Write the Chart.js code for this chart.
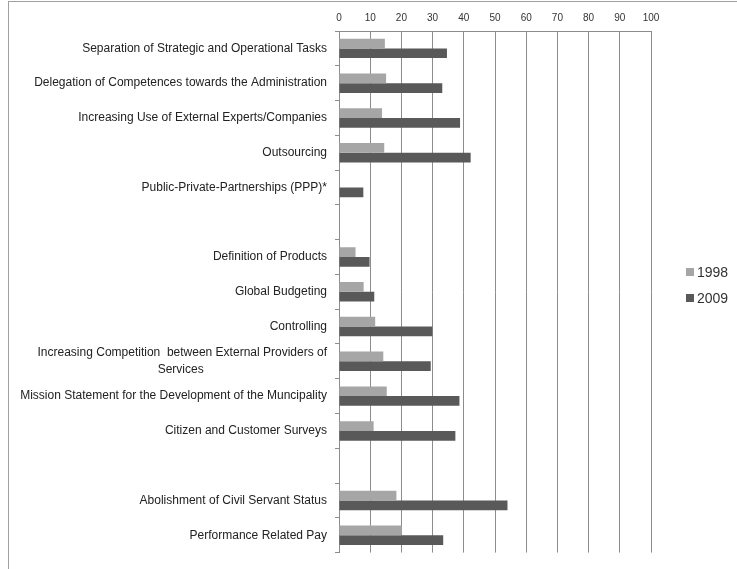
<!DOCTYPE html>
<html>
<head>
<meta charset="utf-8">
<script src="https://cdn.jsdelivr.net/npm/chart.js@4.4.1/dist/chart.umd.min.js"></script>
<style>
  html, body { margin: 0; padding: 0; background: #fff; }
  #wrap { position: relative; width: 737px; height: 569px; overflow: hidden; }
  #frame { position: absolute; left: 8px; top: 1px; width: 800px; height: 700px;
           border-left: 1px solid #a0a0a0; border-top: 1px solid #a0a0a0; pointer-events: none; }
  canvas { position: absolute; left: 0; top: 0; }
</style>
</head>
<body>
<div id="wrap">
  <canvas id="myChart" width="737" height="569"></canvas>
  <div id="frame"></div>
</div>
<script>
const categories = [
    'Separation of Strategic and Operational Tasks',
    'Delegation of Competences towards the Administration',
    'Increasing Use of External Experts/Companies',
    'Outsourcing',
    'Public-Private-Partnerships (PPP)*',
    '',
    'Definition of Products',
    'Global Budgeting',
    'Controlling',
    ['Increasing Competition  between External Providers of', 'Services'],
    'Mission Statement for the Development of the Muncipality',
    'Citizen and Customer Surveys',
    '',
    'Abolishment of Civil Servant Status',
    'Performance Related Pay'
];
const values1998 = [14.7, 15.1, 13.8, 14.5, null, null, 5.3, 7.9, 11.6, 14.2, 15.3, 11.1, null, 18.4, 20.1];
const values2009 = [34.6, 33.1, 38.8, 42.2, 7.8, null, 9.8, 11.3, 29.9, 29.4, 38.6, 37.3, null, 54.0, 33.4];
const xTicks = [0, 10, 20, 30, 40, 50, 60, 70, 80, 90, 100];

(function () {
    "use strict";

    const labelFont = '"Liberation Sans", Arial, sans-serif';
    const labelSize = 12;

    // multi-line labels: the shorter line is centred under the longer one,
    // done by padding it with trailing spaces (the axis right-aligns lines)
    const measure = document.createElement('canvas').getContext('2d');
    measure.font = labelSize + 'px ' + labelFont;
    function centreLines(lines) {
        const widths = lines.map(function (l) { return measure.measureText(l).width; });
        const longest = Math.max.apply(null, widths);
        const space = measure.measureText(' ').width;
        return lines.map(function (l, i) {
            const n = Math.round((longest - widths[i]) / 2 / space);
            return l + ' '.repeat(n);
        });
    }

    // legend drawn by hand so it sits where the original one is
    const sideLegend = {
        id: 'sideLegend',
        afterDraw(chart) {
            const ctx = chart.ctx;
            ctx.save();
            ctx.font = '14px "Liberation Sans", Arial, sans-serif';
            ctx.textBaseline = 'middle';
            ctx.textAlign = 'left';
            chart.data.datasets.forEach(function (ds, i) {
                const y = 272 + i * 26;
                ctx.fillStyle = ds.backgroundColor;
                ctx.fillRect(686, y - 4, 8, 8);
                ctx.fillStyle = '#333';
                ctx.fillText(ds.label, 697, y + 1);
            });
            ctx.restore();
        }
    };

    const ctx = document.getElementById('myChart').getContext('2d');
    const chart = new Chart(ctx, {
        type: 'bar',
        data: {
            labels: categories,
            datasets: [{
                label: '1998',
                data: values1998,
                backgroundColor: '#a6a6a6'
            }, {
                label: '2009',
                data: values2009,
                backgroundColor: '#595959'
            }]
        },
        options: {
            indexAxis: 'y',
            responsive: false,
            animation: false,
            layout: { padding: { left: 0, right: 86, top: 0, bottom: 14 } },
            datasets: {
                bar: { categoryPercentage: 0.56, barPercentage: 1.0 }
            },
            scales: {
                x: {
                    position: 'top',
                    min: 0,
                    max: 100,
                    afterFit(scale) { scale.height = 31; },
                    afterBuildTicks(scale) {
                        scale.ticks = xTicks.map(function (v) { return { value: v }; });
                    },
                    ticks: {
                        color: '#333',
                        padding: 7,
                        maxRotation: 0,
                        font: { family: labelFont, size: 10 }
                    },
                    grid: { color: '#8c8c8c', lineWidth: 1, drawTicks: false },
                    border: { color: '#8c8c8c' }
                },
                y: {
                    afterFit(scale) { scale.width = 339; },
                    ticks: {
                        color: '#222',
                        padding: 8,
                        autoSkip: false,
                        font: { family: labelFont, size: labelSize, lineHeight: 1.4 },
                        callback(value) {
                            const lbl = this.getLabelForValue(value);
                            return Array.isArray(lbl) ? centreLines(lbl) : lbl;
                        }
                    },
                    grid: {
                        drawOnChartArea: false,
                        drawTicks: true,
                        tickLength: 4,
                        color: '#8c8c8c'
                    },
                    border: { color: '#8c8c8c' }
                }
            },
            plugins: {
                legend: { display: false },
                tooltip: { enabled: false }
            }
        },
        plugins: [sideLegend]
    });
})();
</script>
</body>
</html>
